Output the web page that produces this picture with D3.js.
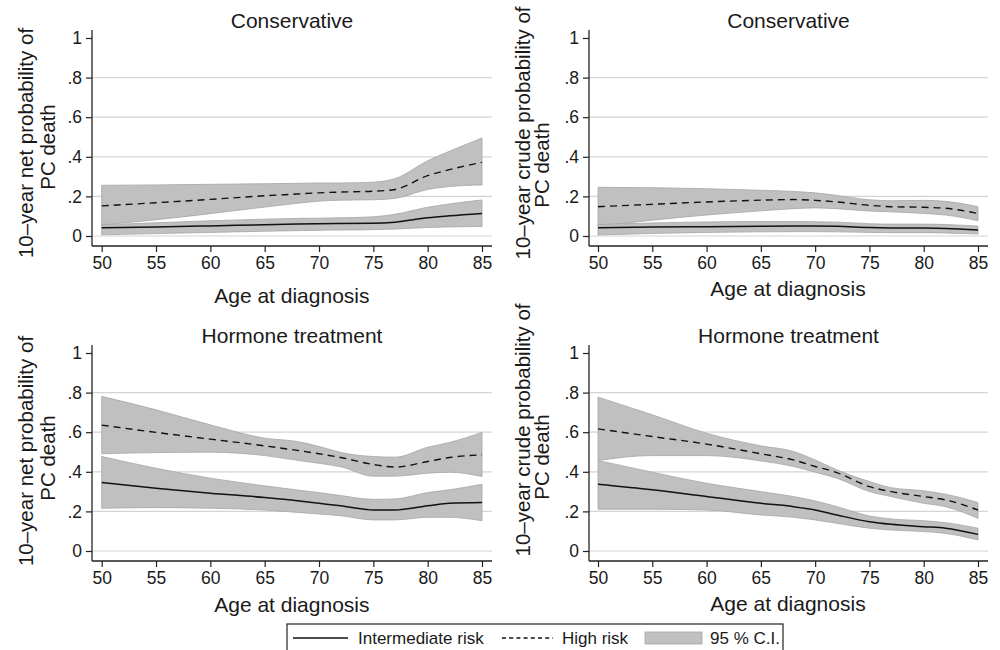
<!DOCTYPE html>
<html><head><meta charset="utf-8">
<script src="https://cdn.jsdelivr.net/npm/d3@7"></script>
<style>body{margin:0;background:#fff}</style></head>
<body>
<script>
// ---------- data ----------
const ages = [50,55,60,65,68,70,72,75,77,80,82,85];
const xTicks = [50,55,60,65,70,75,80,85];
const yTicks = [0,0.2,0.4,0.6,0.8,1];
const yTickLabels = ["0",".2",".4",".6",".8","1"];
const gridValues = [0,0.2,0.4,0.6,0.8];
const panelTitles = ["Conservative","Conservative","Hormone treatment","Hormone treatment"];
const yTitleNet = ["10\u2013year net probability of","PC death"];
const yTitleCrude = ["10\u2013year crude probability of","PC death"];
const xTitle = "Age at diagnosis";
const legendLabels = ["Intermediate risk","High risk","95 % C.I."];

// Conservative, net probability
const netConsMid   = [.042,.046,.051,.057,.060,.062,.063,.064,.070,.092,.102,.114];
const netConsMidLo = [.006,.012,.018,.024,.027,.029,.030,.032,.035,.043,.046,.048];
const netConsMidHi = [.056,.067,.077,.085,.089,.090,.092,.097,.110,.145,.162,.182];
const netConsHigh  = [.152,.168,.185,.203,.212,.218,.222,.226,.235,.305,.335,.372];
const netConsHighLo= [.056,.082,.113,.146,.165,.176,.181,.183,.190,.235,.250,.258];
const netConsHighHi= [.256,.258,.261,.264,.266,.268,.268,.272,.290,.380,.428,.495];
// Conservative, crude probability
const crdConsMid   = [.042,.045,.047,.049,.050,.050,.049,.043,.041,.040,.038,.030];
const crdConsMidLo = [.005,.013,.018,.021,.022,.022,.021,.018,.017,.017,.015,.010];
const crdConsMidHi = [.058,.066,.071,.073,.073,.072,.070,.062,.060,.060,.058,.050];
const crdConsHigh  = [.148,.160,.172,.181,.184,.180,.172,.155,.148,.145,.140,.114];
const crdConsHighLo= [.050,.080,.106,.127,.138,.142,.138,.126,.122,.114,.106,.077];
const crdConsHighHi= [.246,.244,.239,.231,.225,.218,.205,.183,.178,.180,.175,.148];
// Hormone treatment, net probability
const netHormMid   = [.346,.317,.292,.270,.254,.241,.228,.207,.207,.228,.241,.245];
const netHormMidLo = [.216,.219,.216,.207,.195,.187,.178,.157,.157,.170,.170,.153];
const netHormMidHi = [.477,.418,.368,.329,.308,.295,.280,.261,.263,.295,.309,.337];
const netHormHigh  = [.636,.599,.565,.531,.508,.491,.472,.437,.424,.452,.472,.486];
const netHormHighLo= [.491,.497,.499,.482,.458,.443,.425,.378,.378,.393,.398,.376];
const netHormHighHi= [.781,.713,.637,.570,.553,.528,.498,.477,.474,.524,.548,.599];
// Hormone treatment, crude probability
const crdHormMid   = [.337,.309,.275,.241,.224,.207,.182,.148,.135,.123,.115,.084];
const crdHormMidLo = [.211,.211,.207,.182,.170,.157,.140,.115,.106,.098,.089,.056];
const crdHormMidHi = [.457,.398,.342,.300,.275,.253,.224,.177,.162,.153,.143,.115];
const crdHormHigh  = [.617,.578,.540,.491,.460,.427,.396,.325,.300,.275,.258,.207];
const crdHormHighLo= [.457,.482,.482,.455,.427,.398,.368,.300,.275,.241,.224,.165];
const crdHormHighHi= [.777,.688,.595,.531,.503,.460,.410,.351,.320,.304,.287,.245];

// ---------- drawing ----------
const FONT = "'Liberation Sans', Arial, Helvetica, sans-serif";
const TXT = "#1a1a1a";
const svg = d3.select("body").append("svg")
  .attr("width",1000).attr("height",650)
  .style("font-family",FONT);

const panels = [
  {title:panelTitles[0], yTitle:yTitleNet,
   mid:netConsMid, midLo:netConsMidLo, midHi:netConsMidHi, high:netConsHigh, highLo:netConsHighLo, highHi:netConsHighHi,
   L:{ax:92, x0:101.7, x1:482, right:492, y0:236, y1:38, axisY:246, top:30, titleY:20, xTitleY:295, yt:[[25,143],[47,147]]}},
  {title:panelTitles[1], yTitle:yTitleCrude,
   mid:crdConsMid, midLo:crdConsMidLo, midHi:crdConsMidHi, high:crdConsHigh, highLo:crdConsHighLo, highHi:crdConsHighHi,
   L:{ax:589, x0:598, x1:978, right:988, y0:236, y1:38, axisY:246, top:30, titleY:20, xTitleY:288, yt:[[522,133],[541,165]]}},
  {title:panelTitles[2], yTitle:yTitleNet,
   mid:netHormMid, midLo:netHormMidLo, midHi:netHormMidHi, high:netHormHigh, highLo:netHormHighLo, highHi:netHormHighHi,
   L:{ax:92, x0:101.7, x1:482, right:492, y0:551, y1:353, axisY:561, top:345, titleY:335, xTitleY:604, yt:[[25,451],[47,458]]}},
  {title:panelTitles[3], yTitle:yTitleCrude,
   mid:crdHormMid, midLo:crdHormMidLo, midHi:crdHormMidHi, high:crdHormHigh, highLo:crdHormHighLo, highHi:crdHormHighHi,
   L:{ax:589, x0:598, x1:978, right:988, y0:551, y1:353, axisY:561, top:345, titleY:335, xTitleY:603, yt:[[522,430],[541,457]]}}
];

panels.forEach(p => {
  const L = p.L;
  const x = d3.scaleLinear().domain([50,85]).range([L.x0,L.x1]);
  const y = d3.scaleLinear().domain([0,1]).range([L.y0,L.y1]);
  const g = svg.append("g");

  // gridlines
  g.selectAll("line.grid").data(gridValues).join("line")
    .attr("x1",L.ax).attr("x2",L.right)
    .attr("y1",d=>y(d)).attr("y2",d=>y(d))
    .attr("stroke","#d4d4d4").attr("stroke-width",1.2);

  const area = (lo,hi) => d3.area()
    .x((d,i)=>x(ages[i])).y0((d,i)=>y(lo[i])).y1((d,i)=>y(hi[i]))
    .curve(d3.curveMonotoneX)(ages);
  const line = (vals) => d3.line()
    .x((d,i)=>x(ages[i])).y((d,i)=>y(vals[i]))
    .curve(d3.curveMonotoneX)(ages);

  // CI bands
  [[p.highLo,p.highHi],[p.midLo,p.midHi]].forEach(([lo,hi]) => {
    g.append("path").attr("d",area(lo,hi))
      .attr("fill","#c0c0c0").attr("stroke","#a6a6a6").attr("stroke-width",0.8);
  });
  // estimate lines
  g.append("path").attr("d",line(p.mid)).attr("fill","none")
    .attr("stroke","#111").attr("stroke-width",1.5);
  g.append("path").attr("d",line(p.high)).attr("fill","none")
    .attr("stroke","#111").attr("stroke-width",1.4).attr("stroke-dasharray","7,5");

  // axes
  const xa = g.append("g").attr("transform",`translate(0,${L.axisY})`)
    .call(d3.axisBottom(x).tickValues(xTicks).tickSize(6).tickPadding(5).tickSizeOuter(0));
  xa.select(".domain").remove();
  xa.append("line").attr("x1",L.ax).attr("x2",L.right).attr("y1",0).attr("y2",0)
    .attr("stroke","#222").attr("stroke-width",1.3);
  xa.selectAll(".tick line").attr("stroke","#222").attr("stroke-width",1.2);
  xa.selectAll(".tick text").attr("font-size",17.5).attr("font-family",FONT).attr("fill",TXT);

  const ya = g.append("g").attr("transform",`translate(${L.ax},0)`)
    .call(d3.axisLeft(y).tickValues(yTicks).tickFormat((d,i)=>yTickLabels[i]).tickSize(6).tickPadding(4).tickSizeOuter(0));
  ya.select(".domain").remove();
  ya.append("line").attr("x1",0).attr("x2",0).attr("y1",L.top).attr("y2",L.axisY)
    .attr("stroke","#222").attr("stroke-width",1.3);
  ya.selectAll(".tick line").attr("stroke","#222").attr("stroke-width",1.2);
  ya.selectAll(".tick text").attr("font-size",17.5).attr("font-family",FONT).attr("fill",TXT);

  // titles
  g.append("text").attr("x",(L.ax+L.right)/2).attr("y",L.titleY)
    .attr("text-anchor","middle").attr("dominant-baseline","central")
    .attr("font-size",21).attr("fill",TXT).text(p.title);
  g.append("text").attr("x",(L.x0+L.x1)/2 + 0).attr("y",L.xTitleY)
    .attr("text-anchor","middle").attr("dominant-baseline","central")
    .attr("font-size",21).attr("fill",TXT).text(xTitle);
  p.yTitle.forEach((t,i) => {
    const [tx,ty] = L.yt[i];
    g.append("text").attr("transform",`translate(${tx},${ty}) rotate(-90)`)
      .attr("text-anchor","middle").attr("dominant-baseline","central")
      .attr("font-size",20.5).attr("fill",TXT).text(t);
  });
});

// ---------- legend ----------
const lg = svg.append("g");
lg.append("rect").attr("x",287).attr("y",624).attr("width",496).attr("height",40)
  .attr("fill","#fff").attr("stroke","#222").attr("stroke-width",1.2);
const ly = 638;
lg.append("line").attr("x1",293).attr("x2",348).attr("y1",ly).attr("y2",ly)
  .attr("stroke","#111").attr("stroke-width",1.4);
lg.append("text").attr("x",358).attr("y",ly).attr("dominant-baseline","central")
  .attr("font-size",17).attr("fill",TXT).text(legendLabels[0]);
lg.append("line").attr("x1",502).attr("x2",553).attr("y1",ly).attr("y2",ly)
  .attr("stroke","#111").attr("stroke-width",1.3).attr("stroke-dasharray","4,3.2");
lg.append("text").attr("x",562).attr("y",ly).attr("dominant-baseline","central")
  .attr("font-size",17).attr("fill",TXT).text(legendLabels[1]);
lg.append("rect").attr("x",645).attr("y",632).attr("width",57).attr("height",12)
  .attr("fill","#c0c0c0").attr("stroke","#a6a6a6").attr("stroke-width",0.8);
lg.append("text").attr("x",710).attr("y",ly).attr("dominant-baseline","central")
  .attr("font-size",17).attr("fill",TXT).text(legendLabels[2]);
</script>
</body></html>
